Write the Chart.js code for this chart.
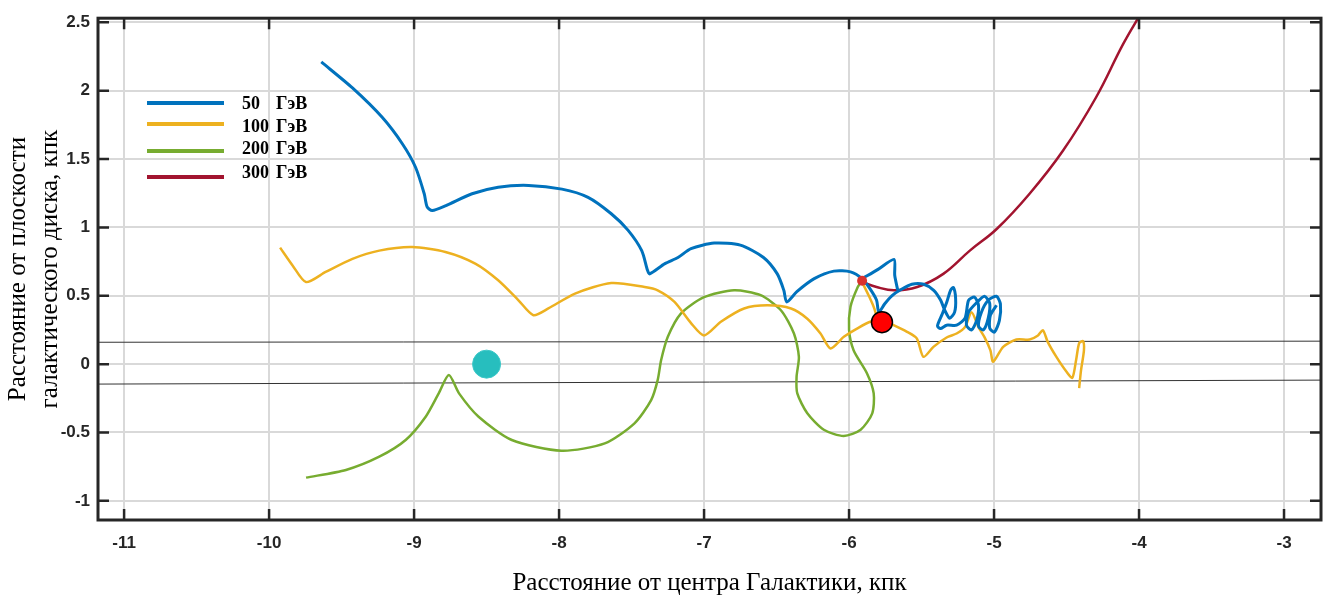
<!DOCTYPE html>
<html>
<head>
<meta charset="utf-8">
<script src="https://cdn.jsdelivr.net/npm/chart.js@4.4.1/dist/chart.umd.min.js"></script>
<style>
  html, body { margin: 0; padding: 0; background: #fff; }
  #wrap { width: 1336px; height: 597px; position: relative; }
</style>
</head>
<body>
<div id="wrap"><canvas id="orbits"></canvas></div>
<script>
// оси
const xTicks = [-11, -10, -9, -8, -7, -6, -5, -4, -3];
const yTicks = [-1, -0.5, 0, 0.5, 1, 1.5, 2, 2.5];
const xRange = [-11.18, -2.745];
const yRange = [-1.14, 2.53];

// легенда
const energies = ['50', '100', '200', '300'];
const unit = 'ГэВ';

// 50 ГэВ
const blueX = [-9.64, -9.425, -9.22, -9.08, -8.99, -8.93, -8.91, -8.875, -8.78, -8.60, -8.42, -8.21, -7.98, -7.80, -7.64, -7.525, -7.43, -7.39, -7.375, -7.27, -7.18, -7.09, -6.93, -6.75, -6.59, -6.495, -6.45, -6.43, -6.36, -6.24, -6.105, -5.99, -5.91, -5.855, -5.81, -5.795, -5.755, -5.705, -5.65, -5.567, -5.485, -5.416, -5.368, -5.34, -5.306, -5.272, -5.265, -5.28, -5.30, -5.327, -5.36, -5.39, -5.37, -5.327, -5.258, -5.20, -5.176, -5.135, -5.107, -5.12, -5.155, -5.19, -5.176, -5.12, -5.066, -5.03, -5.04, -5.073, -5.107, -5.087, -5.04, -4.983, -4.956, -4.963, -4.997, -5.03, -5.025, -4.983];
const blueY = [2.21, 2.02, 1.805, 1.61, 1.44, 1.246, 1.15, 1.124, 1.16, 1.246, 1.294, 1.307, 1.28, 1.22, 1.10, 0.98, 0.83, 0.686, 0.66, 0.735, 0.78, 0.845, 0.885, 0.87, 0.78, 0.66, 0.54, 0.455, 0.53, 0.625, 0.68, 0.675, 0.625, 0.55, 0.467, 0.38, 0.44, 0.50, 0.54, 0.584, 0.584, 0.54, 0.467, 0.394, 0.336, 0.38, 0.48, 0.56, 0.54, 0.45, 0.36, 0.28, 0.26, 0.285, 0.285, 0.336, 0.467, 0.49, 0.43, 0.32, 0.25, 0.285, 0.38, 0.45, 0.496, 0.445, 0.336, 0.25, 0.277, 0.38, 0.467, 0.496, 0.44, 0.32, 0.234, 0.263, 0.358, 0.43];
const blueSpikeX = [-5.91, -5.80, -5.69, -5.685, -5.664];
const blueSpikeY = [0.625, 0.693, 0.766, 0.65, 0.54];

// 100 ГэВ
const yellowX = [-9.924, -9.837, -9.745, -9.61, -9.425, -9.24, -9.013, -8.784, -8.578, -8.42, -8.28, -8.177, -8.074, -7.89, -7.64, -7.41, -7.32, -7.204, -7.09, -7.0, -6.884, -6.724, -6.563, -6.40, -6.29, -6.197, -6.128, -6.036, -5.945, -5.854, -5.773, -5.693, -5.60, -5.533, -5.487, -5.418, -5.327, -5.258, -5.20, -5.155, -5.107, -5.066, -5.025, -5.006, -4.937, -4.846, -4.755, -4.697, -4.663, -4.63, -4.57, -4.50, -4.46, -4.434, -4.413, -4.386, -4.38, -4.40, -4.413];
const yellowY = [0.852, 0.72, 0.60, 0.674, 0.77, 0.83, 0.856, 0.82, 0.735, 0.613, 0.467, 0.358, 0.407, 0.516, 0.593, 0.564, 0.54, 0.455, 0.30, 0.21, 0.31, 0.407, 0.43, 0.407, 0.334, 0.224, 0.115, 0.20, 0.26, 0.31, 0.32, 0.285, 0.236, 0.188, 0.053, 0.126, 0.195, 0.224, 0.272, 0.38, 0.27, 0.197, 0.10, 0.017, 0.126, 0.18, 0.18, 0.21, 0.248, 0.163, 0.053, -0.056, -0.10, 0.03, 0.153, 0.168, 0.10, -0.044, -0.175];
const yellowLinkX = [-5.91, -5.862, -5.827, -5.806];
const yellowLinkY = [0.60, 0.496, 0.41, 0.336];

// 200 ГэВ
const greenX = [-9.745, -9.47, -9.24, -9.058, -8.92, -8.83, -8.76, -8.69, -8.555, -8.326, -7.983, -7.685, -7.48, -7.365, -7.32, -7.296, -7.25, -7.16, -7.0, -6.793, -6.61, -6.47, -6.38, -6.346, -6.362, -6.357, -6.288, -6.174, -6.037, -5.92, -5.84, -5.83, -5.876, -5.968, -6.0, -5.99, -5.94, -5.91];
const greenY = [-0.83, -0.774, -0.677, -0.555, -0.385, -0.214, -0.08, -0.214, -0.385, -0.555, -0.633, -0.58, -0.433, -0.263, -0.117, 0.03, 0.20, 0.37, 0.49, 0.54, 0.504, 0.394, 0.224, 0.053, -0.093, -0.214, -0.36, -0.48, -0.525, -0.48, -0.36, -0.214, -0.068, 0.10, 0.25, 0.42, 0.564, 0.61];

// 300 ГэВ
const redX = [-5.91, -5.81, -5.69, -5.53, -5.35, -5.167, -4.98, -4.755, -4.525, -4.297, -4.11, -3.99];
const redY = [0.60, 0.564, 0.54, 0.564, 0.66, 0.83, 0.99, 1.246, 1.56, 1.95, 2.34, 2.56];

// границы диска
const diskX = [-11.18, -2.745];
const diskTopY = [0.16, 0.168];
const diskBottomY = [-0.146, -0.117];

// Солнце, источник
const sunPos = [-8.5, 0];
const sourcePos = [-5.773, 0.307];
const startPos = [-5.91, 0.61];

const colors = ['#0072BD', '#EDB120', '#77AC30', '#A2142F'];

function pts(xs, ys) {
    return xs.map((v, i) => ({ x: v, y: ys[i] }));
}

function curve(xs, ys, color, width, tension) {
    return {
        data: pts(xs, ys),
        showLine: true,
        borderColor: color,
        borderWidth: width,
        pointRadius: 0,
        tension: tension === undefined ? 0.25 : tension,
        fill: false
    };
}

const framePlugin = {
    id: 'frame',
    afterDraw(chart) {
        const { ctx, chartArea: a, scales: { x, y } } = chart;
        ctx.save();
        ctx.strokeStyle = '#262626';
        ctx.lineWidth = 2.5;
        ctx.beginPath();
        xTicks.forEach(v => {
            const px = x.getPixelForValue(v);
            ctx.moveTo(px, a.bottom); ctx.lineTo(px, a.bottom - 11);
            ctx.moveTo(px, a.top); ctx.lineTo(px, a.top + 11);
        });
        yTicks.forEach(v => {
            const py = y.getPixelForValue(v);
            ctx.moveTo(a.left, py); ctx.lineTo(a.left + 11, py);
            ctx.moveTo(a.right, py); ctx.lineTo(a.right - 11, py);
        });
        ctx.stroke();
        ctx.lineWidth = 3;
        ctx.strokeRect(a.left, a.top, a.right - a.left, a.bottom - a.top);

        // легенда
        const lineY = [103, 124, 151, 177];
        const textY = [104, 127, 149, 173];
        ctx.lineWidth = 4;
        ctx.font = 'bold 18px "Liberation Serif"';
        ctx.fillStyle = '#000';
        ctx.textBaseline = 'middle';
        energies.forEach((e, i) => {
            ctx.strokeStyle = colors[i];
            ctx.beginPath();
            ctx.moveTo(147, lineY[i]); ctx.lineTo(224, lineY[i]);
            ctx.stroke();
            ctx.fillText(e, 242, textY[i]);
            ctx.fillText(unit, 276, textY[i]);
        });
        ctx.restore();
    }
};

new Chart(document.getElementById('orbits'), {
    type: 'scatter',
    data: {
        datasets: [
            { data: [{ x: sourcePos[0], y: sourcePos[1] }], pointRadius: 10.5, pointBackgroundColor: '#FF0000', pointBorderColor: '#000', pointBorderWidth: 1.5 },
            { data: [{ x: startPos[0], y: startPos[1] }], pointRadius: 5, pointBackgroundColor: '#D9322E', pointBorderWidth: 0 },
            { data: [{ x: sunPos[0], y: sunPos[1] }], pointRadius: 14, pointBackgroundColor: '#27BEBE', pointBorderColor: '#3CC8C8', pointBorderWidth: 1 },
            curve(blueX, blueY, colors[0], 3),
            curve(blueSpikeX, blueSpikeY, colors[0], 3),
            curve(redX, redY, colors[3], 2.5, 0.4),
            curve(yellowX, yellowY, colors[1], 2.5),
            curve(yellowLinkX, yellowLinkY, colors[1], 2.5),
            curve(greenX, greenY, colors[2], 2.5),
            curve(diskX, diskTopY, '#333', 1, 0),
            curve(diskX, diskBottomY, '#333', 1, 0)
        ]
    },
    options: {
        responsive: true,
        maintainAspectRatio: false,
        animation: false,
        layout: { padding: { left: 0, right: 9, top: 16, bottom: 0 } },
        plugins: {
            legend: { display: false },
            tooltip: { enabled: false }
        },
        scales: {
            x: {
                type: 'linear',
                min: xRange[0],
                max: xRange[1],
                afterBuildTicks: s => { s.ticks = xTicks.map(v => ({ value: v })); },
                afterFit: s => { s.height = 77; },
                ticks: {
                    color: '#262626',
                    font: { family: 'Liberation Sans', size: 17, weight: 'bold' },
                    padding: 13,
                    callback: v => String(v)
                },
                grid: { color: '#d9d9d9', lineWidth: 2, drawTicks: false },
                border: { display: false },
                title: {
                    display: true,
                    text: 'Расстояние от центра Галактики, кпк',
                    color: '#000',
                    font: { family: 'Liberation Serif', size: 25, lineHeight: 1.1 },
                    padding: { top: 0, bottom: 0 }
                }
            },
            y: {
                type: 'linear',
                min: yRange[0],
                max: yRange[1],
                afterBuildTicks: s => { s.ticks = yTicks.map(v => ({ value: v })); },
                afterFit: s => { s.width = 98; },
                ticks: {
                    color: '#262626',
                    font: { family: 'Liberation Sans', size: 17, weight: 'bold' },
                    padding: 8,
                    callback: v => String(v)
                },
                grid: { color: '#d9d9d9', lineWidth: 2, drawTicks: false },
                border: { display: false },
                title: {
                    display: true,
                    text: ['Расстояние от плоскости', 'галактического диска, кпк'],
                    color: '#000',
                    font: { family: 'Liberation Serif', size: 25, lineHeight: 1.28 },
                    padding: { top: 2, bottom: 0 }
                }
            }
        }
    },
    plugins: [framePlugin]
});
</script>
</body>
</html>
